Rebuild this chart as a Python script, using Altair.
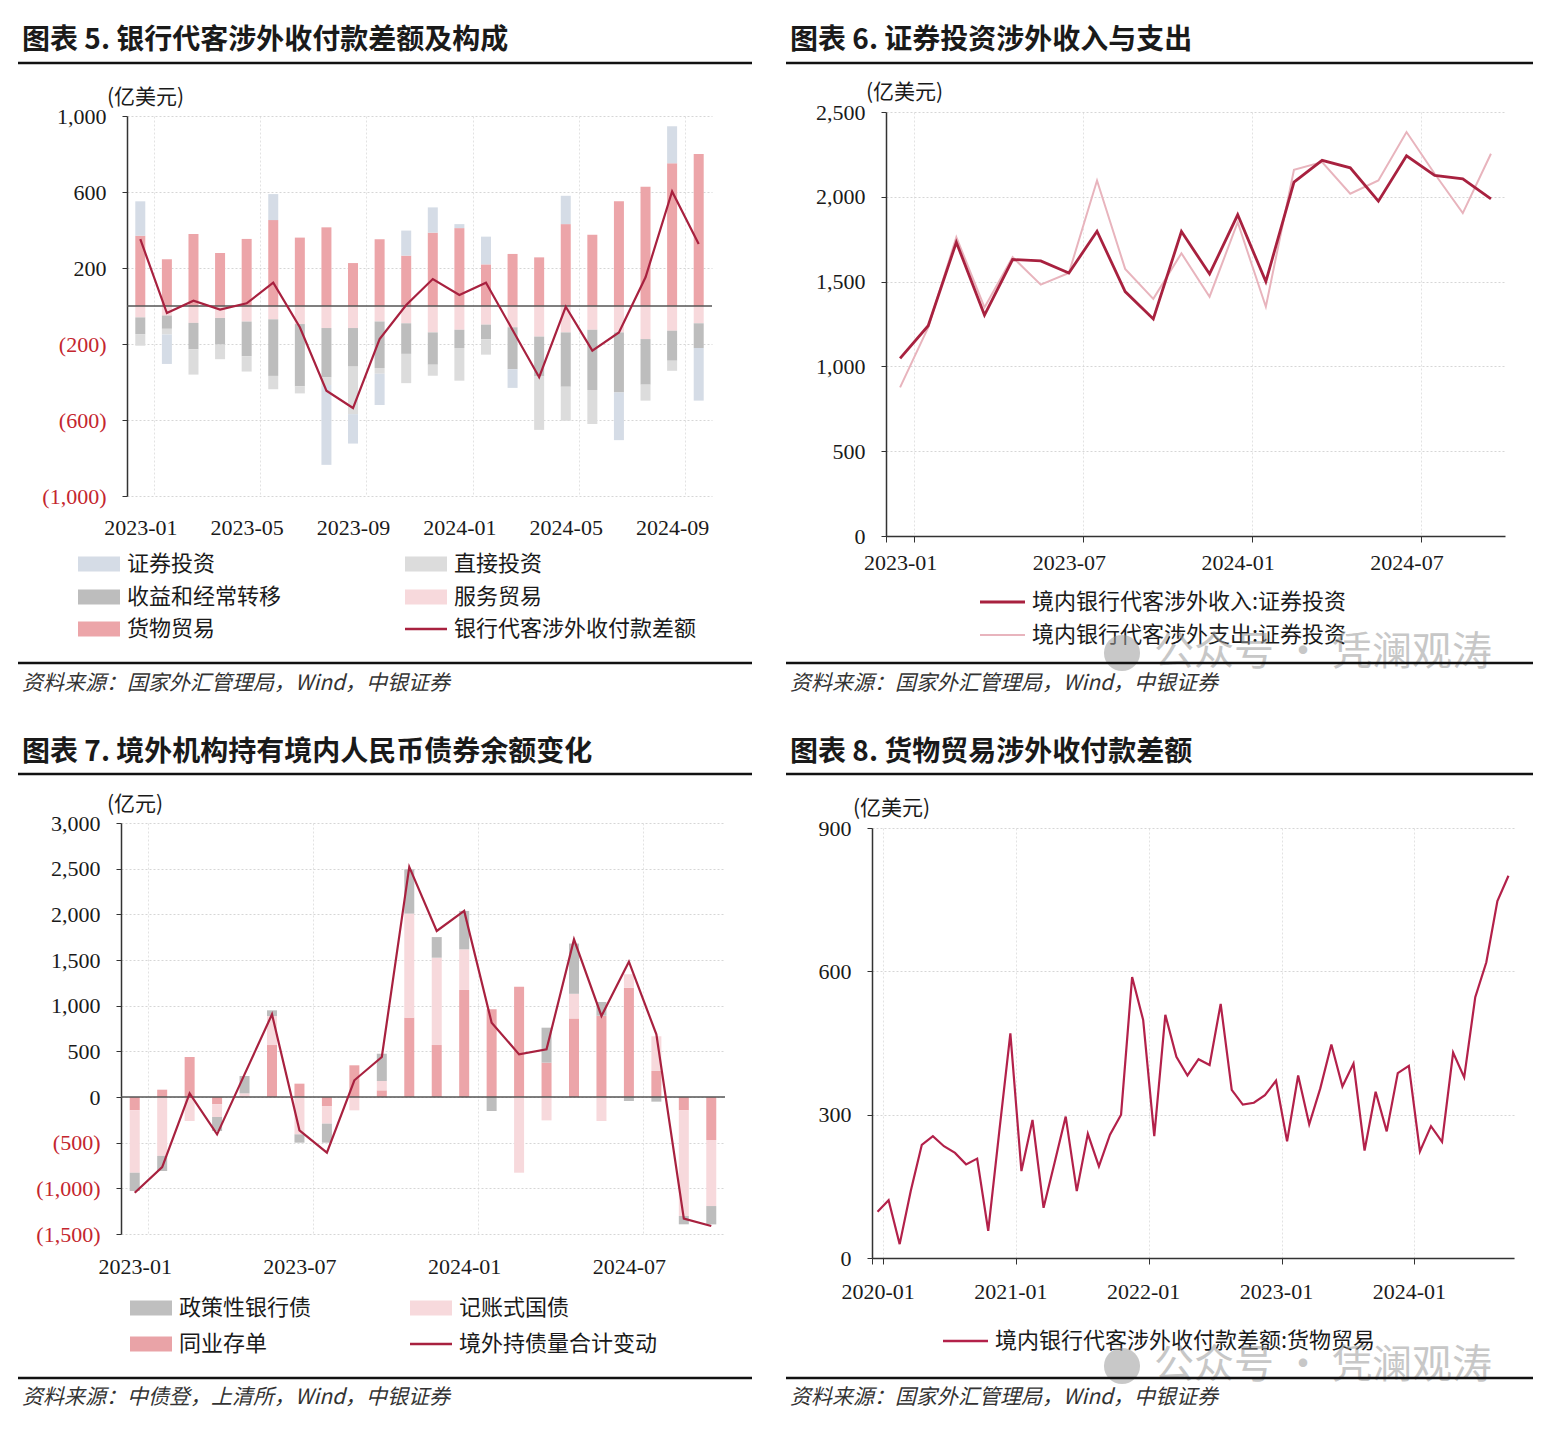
import altair as alt
import pandas as pd

SERIF = "Liberation Serif"
CJK = "Noto Sans CJK SC"
INK = "#1a1a1a"
LINE_RED = "#a8213f"
NEG_RED = "#c4262e"

# ---------------- categories ----------------
months_a = ["2023-01", "2023-02", "2023-03", "2023-04", "2023-05", "2023-06",
            "2023-07", "2023-08", "2023-09", "2023-10", "2023-11", "2023-12",
            "2024-01", "2024-02", "2024-03", "2024-04", "2024-05", "2024-06",
            "2024-07", "2024-08", "2024-09", "2024-10"]
months_b = [f"{y}-{m:02d}" for y in range(2020, 2025) for m in range(1, 13)][:58]

# ---------------- panel 1 : 银行代客涉外收付款差额及构成 (亿美元) ----------------
p1_names = ["货物贸易", "服务贸易", "收益和经常转移", "直接投资", "证券投资"]
p1_colors = ["#eca5a9", "#f7d9dc", "#bdbdbd", "#dcdcdc", "#d5dce6"]
p1_goods = [370, 246, 379, 279, 353, 452, 360, 414, 226, 351, 265, 386, 410, 219, 274, 256, 431, 375, 551, 628, 751, 800]
p1_services = [-60, -50, -89, -63, -82, -70, -95, -116, -116, -82, -91, -139, -125, -98, -112, -161, -139, -125, -139, -174, -130, -91]
p1_income = [-88, -70, -139, -140, -182, -298, -328, -260, -203, -244, -161, -170, -96, -77, -221, -210, -286, -317, -316, -240, -158, -130]
p1_direct = [-61, -30, -133, -77, -81, -70, -37, -40, -250, -30, -154, -58, -172, -81, 0, -281, -179, -179, 0, -84, -53, 0]
p1_securities = [181, -155, 0, 0, 0, 137, 0, -420, -155, -165, 132, 133, 21, 146, -98, 0, 149, 0, -251, 0, 195, -277]
p1_net_name = "银行代客涉外收付款差额"
p1_net = [352, -37, 28, -19, 14, 123, -112, -446, -537, -174, 5, 142, 58, 123, -126, -375, -4, -235, -139, 151, 603, 326]
p1_xlabels = ["2023-01", "2023-05", "2023-09", "2024-01", "2024-05", "2024-09"]

# ---------------- panel 2 : 证券投资涉外收入与支出 (亿美元) ----------------
p2_names = ["境内银行代客涉外收入:证券投资", "境内银行代客涉外支出:证券投资"]
p2_income = [1047, 1240, 1732, 1303, 1630, 1622, 1551, 1797, 1441, 1280, 1795, 1545,
             1894, 1500, 2087, 2215, 2171, 1974, 2242, 2126, 2106, 1988]
p2_expense = [876, 1230, 1762, 1348, 1644, 1482, 1551, 2096, 1575, 1398, 1667, 1411,
              1850, 1352, 2159, 2205, 2018, 2096, 2382, 2136, 1904, 2254]
p2_xlabels = ["2023-01", "2023-07", "2024-01", "2024-07"]

# ---------------- panel 3 : 境外机构持有境内人民币债券余额变化 (亿元) ----------------
p3_names = ["同业存单", "记账式国债", "政策性银行债"]
p3_colors = ["#e9a3a7", "#f7d9dc", "#bfbfbf"]
p3_ncd = [-146, 80, 438, -80, 0, 569, 146, -99, 347, 73, 869, 569, 1172, 960, 1208, 376, 860, 890, 1197, 285, -146, -471]
p3_treasury = [-683, -645, -263, -139, 40, 318, -409, -193, -146, 102, 1139, 956, 445, 0, -829, -256, 270, -263, 146, 380, -1157, -723]
p3_policy = [-201, -165, 0, -153, 190, 62, -91, -208, 0, 299, 485, 226, 420, -153, 0, 383, 550, 150, -44, -51, -91, -201]
p3_total_name = "境外持债量合计变动"
p3_total = [-1048, -767, 40, -409, 248, 905, -365, -610, 183, 438, 2519, 1818,
            2037, 814, 467, 522, 1726, 887, 1482, 686, -1332, -1413]
p3_xlabels = ["2023-01", "2023-07", "2024-01", "2024-07"]

# ---------------- panel 4 : 货物贸易涉外收付款差额 (亿美元) ----------------
p4_name = "境内银行代客涉外收付款差额:货物贸易"
p4_values = [97, 121, 29, 140, 237, 255, 234, 220, 196, 208, 57, 265,
             470, 182, 289, 105, 200, 296, 140, 260, 192, 258, 300, 588,
             498, 255, 509, 421, 382, 416, 404, 532, 352, 321, 325, 341,
             371, 244, 382, 280, 355, 447, 359, 407, 225, 348, 265, 387,
             402, 223, 276, 243, 430, 378, 546, 619, 747, 800]
p4_xlabels = ["2020-01", "2021-01", "2022-01", "2023-01", "2024-01"]

SRC_A = "资料来源：国家外汇管理局，Wind，中银证券"
SRC_B = "资料来源：中债登，上清所，Wind，中银证券"
WATERMARK = "公众号 · 凭澜观涛"

# ---------------- helpers ----------------
dummy = pd.DataFrame({"d": [0]})
TITLE_SIZE = 28
LEG_SIZE = 22
SRC_SIZE = 21
UNIT_SIZE = 21


def T(s, x, y, size=20, weight="normal", style="normal", color=INK, font=CJK, opacity=1.0):
    return alt.Chart(dummy).mark_text(
        text=s, font=font, fontSize=size, fontWeight=weight, fontStyle=style,
        color=color, align="left", baseline="middle", opacity=opacity
    ).encode(x=alt.value(x), y=alt.value(y))


def HR(x1, x2, y, w=2.0, color="#111"):
    return alt.Chart(dummy).mark_rule(color=color, strokeWidth=w).encode(
        x=alt.value(x1), x2=alt.value(x2), y=alt.value(y))


def SW(x1, x2, y, h, color):
    return alt.Chart(dummy).mark_rect(color=color).encode(
        x=alt.value(x1), x2=alt.value(x2), y=alt.value(y - h / 2), y2=alt.value(y + h / 2))


def CELL(x1, x2, y1, y2):
    # invisible frame fixing the extent of each panel inside the grid
    return alt.Chart(dummy).mark_rect(opacity=0).encode(
        x=alt.value(x1), x2=alt.value(x2), y=alt.value(y1), y2=alt.value(y2))


def DOT(x, y, size, color="#9a9a9a", opacity=0.55):
    return alt.Chart(dummy).mark_circle(size=size, color=color, opacity=opacity).encode(
        x=alt.value(x), y=alt.value(y))


def SPACER():
    return alt.Chart(dummy).mark_point(opacity=0).encode(
        x=alt.value(0), y=alt.value(0)).properties(width=1, height=1)


def long_df(months, names, arrays):
    rows = []
    for k, (n, arr) in enumerate(zip(names, arrays)):
        for m, v in zip(months, arr):
            rows.append({"month": m, "series": n, "value": v, "ord": k})
    return pd.DataFrame(rows)


LABEL_EXPR = "datum.value < 0 ? '(' + format(-datum.value, ',') + ')' : format(datum.value, ',')"


def y_axis(values):
    return alt.Axis(values=values, labelExpr=LABEL_EXPR,
                    labelColor=alt.condition("datum.value < 0", alt.value(NEG_RED), alt.value(INK)),
                    labelFont=SERIF, labelFontSize=22, labelPadding=16,
                    domainColor="#333", domainWidth=1.5, tickColor="#333", tickSize=5,
                    grid=True, gridColor="#d6d6d6", gridDash=[2, 2], title=None)


def x_axis(values, domain, ticks, pad):
    return alt.Axis(values=values, labelAngle=0, labelFont=SERIF, labelFontSize=22,
                    labelColor=INK, domain=domain, domainColor="#333", domainWidth=1.5,
                    ticks=ticks, tickColor="#333", tickSize=6, tickBand="extent",
                    grid=True, gridColor="#e2e2e2", gridDash=[2, 2], title=None,
                    labelPadding=pad)


def x_enc(months, values, domain, ticks, pad):
    return alt.X("month:O", sort=months,
                 scale=alt.Scale(type="band", paddingInner=0, paddingOuter=0),
                 axis=x_axis(values, domain, ticks, pad))


# ---------------- panel 1 ----------------
W1, H1 = 585, 380
X1 = x_enc(months_a, p1_xlabels, False, False, 21)
Y1 = alt.Y("value:Q", stack="zero", scale=alt.Scale(domain=[-1000, 1000], nice=False),
           axis=y_axis([-1000, -600, -200, 200, 600, 1000]))
df1 = long_df(months_a, p1_names, [p1_goods, p1_services, p1_income, p1_direct, p1_securities])
bars1 = alt.Chart(df1).mark_bar(size=10).encode(
    x=X1, y=Y1,
    color=alt.Color("series:N", scale=alt.Scale(domain=p1_names, range=p1_colors), legend=None),
    order=alt.Order("ord:Q"))
zero1 = alt.Chart(pd.DataFrame({"value": [0]})).mark_rule(color="#555", strokeWidth=1.5).encode(
    y=alt.Y("value:Q", scale=alt.Scale(domain=[-1000, 1000], nice=False)))
line1 = alt.Chart(pd.DataFrame({"month": months_a, "value": p1_net})).mark_line(
    color=LINE_RED, strokeWidth=2.2).encode(x=X1, y=alt.Y("value:Q"))

leg1 = []
leg_items1 = [("证券投资", "#d5dce6", 0, 0), ("直接投资", "#dcdcdc", 1, 0),
              ("收益和经常转移", "#bdbdbd", 0, 1), ("服务贸易", "#f7d9dc", 1, 1),
              ("货物贸易", "#eca5a9", 0, 2)]
for name, col, c, r in leg_items1:
    lx = -49 if c == 0 else 278
    ly = [448, 481, 513][r]
    leg1.append(SW(lx, lx + 42, ly, 15, col))
    leg1.append(T(name, lx + 49, ly, LEG_SIZE))
leg1.append(HR(278, 320, 513, 2.5, LINE_RED))
leg1.append(T(p1_net_name, 327, 513, LEG_SIZE))

# panel frames: the left column ends at the same local x2 (643), the top row at the same local y2 (604)
panel1 = alt.layer(
    CELL(-113, 643, -95, 604),
    bars1, zero1, line1,
    T("图表 5. 银行代客涉外收付款差额及构成", -105, -75, TITLE_SIZE, weight="bold"),
    HR(-109, 625, -53, 2.5),
    T("(亿美元)", -20, -18, UNIT_SIZE),
    *leg1,
    HR(-109, 625, 547, 2.5),
    T(SRC_A, -105, 568, SRC_SIZE, style="italic", color="#333"),
).properties(width=W1, height=H1)

# ---------------- panel 2 ----------------
W2, H2 = 619, 424
X2 = x_enc(months_a, p2_xlabels, True, True, 10)
Y2 = alt.Y("value:Q", scale=alt.Scale(domain=[0, 2500], nice=False),
           axis=y_axis([0, 500, 1000, 1500, 2000, 2500]))
line2b = alt.Chart(pd.DataFrame({"month": months_a, "value": p2_expense})).mark_line(
    color="#e8b4bd", strokeWidth=2).encode(x=X2, y=Y2)
line2a = alt.Chart(pd.DataFrame({"month": months_a, "value": p2_income})).mark_line(
    color=LINE_RED, strokeWidth=2.8).encode(x=X2, y=Y2)

panel2 = alt.layer(
    CELL(-116, 654, -91, 604),
    line2b, line2a,
    T("图表 6. 证券投资涉外收入与支出", -96, -71, TITLE_SIZE, weight="bold"),
    HR(-100, 647, -49, 2.5),
    T("(亿美元)", -20, -19, UNIT_SIZE),
    HR(94, 139, 490, 3, LINE_RED), T(p2_names[0], 146, 490, LEG_SIZE),
    HR(94, 139, 523, 2, "#e8b4bd"), T(p2_names[1], 146, 523, LEG_SIZE),
    DOT(236, 541, 1300),
    T(WATERMARK, 268, 541, 40, color="#9a9a9a", opacity=0.55),
    HR(-100, 647, 551, 2.5),
    T(SRC_A, -96, 572, SRC_SIZE, style="italic", color="#333"),
).properties(width=W2, height=H2)

# ---------------- panel 3 ----------------
W3, H3 = 604, 411
X3 = x_enc(months_a, p3_xlabels, False, False, 22)
Y3 = alt.Y("value:Q", stack="zero", scale=alt.Scale(domain=[-1500, 3000], nice=False),
           axis=y_axis([-1500, -1000, -500, 0, 500, 1000, 1500, 2000, 2500, 3000]))
df3 = long_df(months_a, p3_names, [p3_ncd, p3_treasury, p3_policy])
bars3 = alt.Chart(df3).mark_bar(size=10).encode(
    x=X3, y=Y3,
    color=alt.Color("series:N", scale=alt.Scale(domain=p3_names, range=p3_colors), legend=None),
    order=alt.Order("ord:Q"))
zero3 = alt.Chart(pd.DataFrame({"value": [0]})).mark_rule(color="#555", strokeWidth=1.5).encode(
    y=alt.Y("value:Q", scale=alt.Scale(domain=[-1500, 3000], nice=False)))
line3 = alt.Chart(pd.DataFrame({"month": months_a, "value": p3_total})).mark_line(
    color=LINE_RED, strokeWidth=2.2).encode(x=X3, y=alt.Y("value:Q"))

panel3 = alt.layer(
    CELL(-107, 643, -103, 604),
    bars3, zero3, line3,
    T("图表 7. 境外机构持有境内人民币债券余额变化", -99, -70, TITLE_SIZE, weight="bold"),
    HR(-103, 631, -49, 2.5),
    T("(亿元)", -14, -18, UNIT_SIZE),
    SW(9, 51, 485, 15, "#bfbfbf"), T("政策性银行债", 58, 485, LEG_SIZE),
    SW(289, 331, 485, 15, "#f7d9dc"), T("记账式国债", 338, 485, LEG_SIZE),
    SW(9, 51, 521, 15, "#e9a3a7"), T("同业存单", 58, 521, LEG_SIZE),
    HR(289, 331, 521, 2.5, LINE_RED), T(p3_total_name, 338, 521, LEG_SIZE),
    HR(-103, 631, 555, 2.5),
    T(SRC_B, -99, 575, SRC_SIZE, style="italic", color="#333"),
).properties(width=W3, height=H3)

# ---------------- panel 4 ----------------
W4, H4 = 642, 430
X4 = x_enc(months_b, p4_xlabels, True, True, 17)
Y4 = alt.Y("value:Q", scale=alt.Scale(domain=[0, 900], nice=False),
           axis=y_axis([0, 300, 600, 900]))
line4 = alt.Chart(pd.DataFrame({"month": months_b, "value": p4_values})).mark_line(
    color="#b3214a", strokeWidth=2.2).encode(x=X4, y=Y4)

panel4 = alt.layer(
    CELL(-108, 668, -112, 599),
    line4,
    T("图表 8. 货物贸易涉外收付款差额", -82, -75, TITLE_SIZE, weight="bold"),
    HR(-86, 661, -54, 2.5),
    T("(亿美元)", -19, -19, UNIT_SIZE),
    HR(71, 116, 513, 2.5, "#b3214a"), T(p4_name, 123, 513, LEG_SIZE),
    DOT(250, 538, 1300),
    T(WATERMARK, 282, 538, 40, color="#9a9a9a", opacity=0.55),
    HR(-86, 661, 550, 2.5),
    T(SRC_A, -82, 570, SRC_SIZE, style="italic", color="#333"),
).properties(width=W4, height=H4)

# a 1px spacer row and column so that every panel is placed by its own frame
chart = alt.concat(
    SPACER(), SPACER(), SPACER(),
    SPACER(), panel1, panel2,
    SPACER(), panel3, panel4,
    columns=3, spacing=0, align="none",
).properties(
    padding={"left": 0, "top": 7, "right": 0, "bottom": 0},
    background="white",
).configure_view(stroke=None)

chart.save("out.html", embed_options={"renderer": "svg", "actions": False})
